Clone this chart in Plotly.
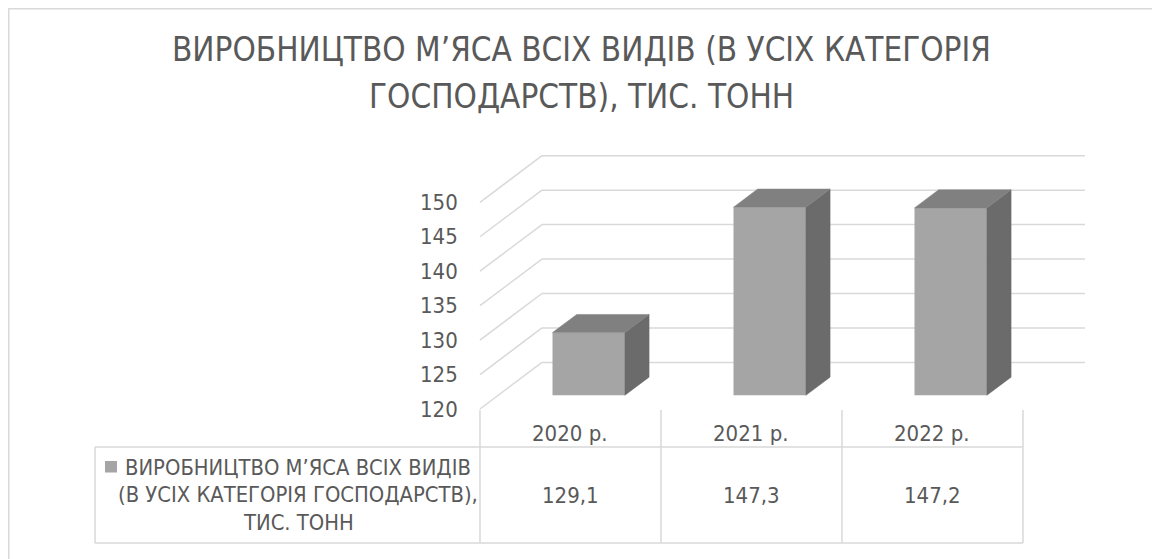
import plotly.graph_objects as go

# ---------------- data ----------------
categories = ["2020 р.", "2021 р.", "2022 р."]
values = [129.1, 147.3, 147.2]
y_ticks = [120, 125, 130, 135, 140, 145, 150]
series_lines = ["ВИРОБНИЦТВО М’ЯСА ВСІХ ВИДІВ",
                "(В УСІХ КАТЕГОРІЯ ГОСПОДАРСТВ),",
                "ТИС. ТОНН"]
title_lines = ["ВИРОБНИЦТВО М’ЯСА ВСІХ ВИДІВ (В УСІХ КАТЕГОРІЯ",
               "ГОСПОДАРСТВ), ТИС. ТОНН"]

# ---------------- style / geometry ----------------
VW, VH = 1160, 559          # browser viewport
PAGE_MARGIN = 8             # default body margin of the page
W, H = VW - PAGE_MARGIN, VH - PAGE_MARGIN
FONT = "'DejaVu Sans Condensed', 'Liberation Sans Narrow', 'Roboto Condensed', 'Noto Sans', sans-serif"
TXT = "#595959"
GRID = "#d9d9d9"
FRONT, SIDE, TOP = "#a5a5a5", "#6b6b6b", "#808080"

PX_PER_CAT = 181.0      # pixels per category
PX_PER_UNIT = 6.89      # pixels per value unit
X0_PX = 588.7           # viewport pixel of category 0 (bar front plane)
Y0_PX = 395.3           # viewport pixel of value 120 (bar front plane)
BASE = 120

DX = 62.0 / PX_PER_CAT      # full wall depth, in category units
DV = 46.6 / PX_PER_UNIT     # full wall depth, in value units
T0 = 0.294                  # depth of the bars' front faces
BAR_DEPTH = 0.39
BAR_W = 0.40

x_range = [(PAGE_MARGIN - X0_PX) / PX_PER_CAT, (VW - X0_PX) / PX_PER_CAT]
y_range = [BASE - (VH - Y0_PX) / PX_PER_UNIT, BASE + (Y0_PX - PAGE_MARGIN) / PX_PER_UNIT]


def proj(c, v, t):
    return c + (t - T0) * DX, v + (t - T0) * DV


def px2paper_x(px):
    return (px - PAGE_MARGIN) / W


def px2paper_y(py):
    return 1 - (py - PAGE_MARGIN) / H


def px2x(px):
    return (px - X0_PX) / PX_PER_CAT


n = len(categories)
xs = list(range(n))

fig = go.Figure()

# front faces
fig.add_trace(go.Bar(
    x=xs, y=[v - BASE for v in values], base=BASE, width=BAR_W,
    marker=dict(color=FRONT, line=dict(width=0)), hoverinfo="skip"))

# side and top faces
bdx, bdv = BAR_DEPTH * DX, BAR_DEPTH * DV
sx, sy, tx, ty = [], [], [], []
for c, v in zip(xs, values):
    r, l = c + BAR_W / 2, c - BAR_W / 2
    sx += [r, r, r + bdx, r + bdx, r, None]
    sy += [BASE, v, v + bdv, BASE + bdv, BASE, None]
    tx += [l, r, r + bdx, l + bdx, l, None]
    ty += [v, v, v + bdv, v + bdv, v, None]
fig.add_trace(go.Scatter(x=sx, y=sy, fill="toself", fillcolor=SIDE, mode="lines",
                         line=dict(width=0.5, color=SIDE), hoverinfo="skip"))
fig.add_trace(go.Scatter(x=tx, y=ty, fill="toself", fillcolor=TOP, mode="lines",
                         line=dict(width=0.5, color=TOP), hoverinfo="skip"))

shapes = []
annotations = []

# walls / gridlines
for v in y_ticks:
    a = proj(-0.5, v, 0)
    b = proj(-0.5, v, 1)
    e = proj(n - 0.5, v, 1)
    shapes.append(dict(type="line", xref="x", yref="y", x0=a[0], y0=a[1], x1=b[0], y1=b[1],
                       line=dict(color=GRID, width=1.5), layer="below"))
    shapes.append(dict(type="line", xref="x", yref="y", x0=b[0], y0=b[1], x1=e[0], y1=e[1],
                       line=dict(color=GRID, width=1.5), layer="below"))
    annotations.append(dict(xref="x", yref="y", x=a[0], y=a[1], xanchor="right", yanchor="middle",
                            xshift=-20, text=str(v), showarrow=False,
                            font=dict(family=FONT, size=22, color=TXT)))

# data table
HDR_TOP, ROW_TOP, ROW_BOT, TABLE_LEFT = 410, 447, 543, 95
for i in range(n + 1):
    xc = proj(i - 0.5, BASE, 0)[0]
    shapes.append(dict(type="line", xref="x", yref="paper", x0=xc, x1=xc,
                       y0=px2paper_y(ROW_BOT), y1=px2paper_y(HDR_TOP),
                       line=dict(color=GRID, width=1.5)))
right_x = proj(n - 0.5, BASE, 0)[0]
for yy in (ROW_TOP, ROW_BOT):
    shapes.append(dict(type="line", xref="x", yref="paper", x0=px2x(TABLE_LEFT), x1=right_x,
                       y0=px2paper_y(yy), y1=px2paper_y(yy), line=dict(color=GRID, width=1.5)))
shapes.append(dict(type="line", xref="x", yref="paper", x0=px2x(TABLE_LEFT), x1=px2x(TABLE_LEFT),
                   y0=px2paper_y(ROW_BOT), y1=px2paper_y(ROW_TOP), line=dict(color=GRID, width=1.5)))

for c, cat, v in zip(xs, categories, values):
    xc = proj(c, BASE, 0)[0]
    annotations.append(dict(xref="x", yref="paper", x=xc, y=px2paper_y(433), text=cat,
                            showarrow=False, xanchor="center", yanchor="middle",
                            font=dict(family=FONT, size=22, color=TXT)))
    annotations.append(dict(xref="x", yref="paper", x=xc, y=px2paper_y(495),
                            text=f"{v:.1f}".replace(".", ","),
                            showarrow=False, xanchor="center", yanchor="middle",
                            font=dict(family=FONT, size=22, color=TXT)))

# legend key + series name
shapes.append(dict(type="rect", xref="paper", yref="paper",
                   x0=px2paper_x(105), x1=px2paper_x(117), y0=px2paper_y(472.5), y1=px2paper_y(461),
                   fillcolor=FRONT, line=dict(width=0)))
for k, line in enumerate(series_lines):
    annotations.append(dict(xref="paper", yref="paper", x=px2paper_x(298), y=px2paper_y(467 + 27.5 * k),
                            text=line, showarrow=False, xanchor="center", yanchor="middle",
                            font=dict(family=FONT, size=21.8, color=TXT)))

# title
for k, line in enumerate(title_lines):
    annotations.append(dict(xref="paper", yref="paper", x=px2paper_x(581), y=px2paper_y(49 + 47.7 * k),
                            text=line, showarrow=False, xanchor="center", yanchor="middle",
                            font=dict(family=FONT, size=33, color=TXT)))

# chart border (top and left edges)
shapes.append(dict(type="line", xref="paper", yref="paper", x0=0, x1=1,
                   y0=1 - 0.75 / H, y1=1 - 0.75 / H, line=dict(color=GRID, width=1.5)))
shapes.append(dict(type="line", xref="paper", yref="paper", x0=0.75 / W, x1=0.75 / W,
                   y0=0, y1=1, line=dict(color=GRID, width=1.5)))

fig.update_layout(
    width=W, height=H, margin=dict(l=0, r=0, t=0, b=0),
    paper_bgcolor="white", plot_bgcolor="white", showlegend=False,
    xaxis=dict(range=x_range, visible=False, fixedrange=True),
    yaxis=dict(range=y_range, visible=False, fixedrange=True),
    shapes=shapes, annotations=annotations,
)

fig.write_html("out.html")
